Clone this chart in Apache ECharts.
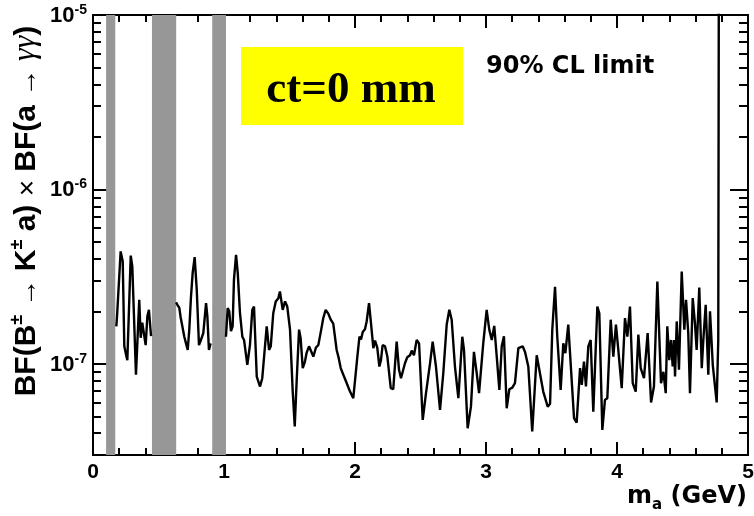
<!DOCTYPE html>
<html>
<head>
<meta charset="utf-8">
<script src="https://cdn.jsdelivr.net/npm/echarts@6/dist/echarts.min.js"></script>
<style>
  html, body { margin: 0; padding: 0; background: #fff; }
  #wrap { position: relative; width: 754px; height: 516px; }
  #frame, #chart { position: absolute; left: 0; top: 0; width: 754px; height: 516px; }
</style>
</head>
<body>
<div id="wrap">
  <div id="frame"></div>
  <div id="chart"></div>
</div>
<script>
// 90% CL upper limit vs m_a (GeV), split by the vetoed mass windows
const seg1 = [
  [0.178, 1.64e-7], [0.183, 1.85e-7], [0.211, 4.41e-7], [0.227, 3.86e-7], [0.239, 1.26e-7],
  [0.250, 1.15e-7], [0.262, 1.05e-7], [0.288, 4.17e-7], [0.300, 3.62e-7], [0.328, 8.65e-8],
  [0.353, 2.33e-7], [0.364, 1.41e-7], [0.376, 1.72e-7], [0.389, 1.68e-7], [0.402, 1.28e-7],
  [0.415, 1.87e-7], [0.427, 2.04e-7], [0.443, 1.44e-7]
];
const seg2 = [
  [0.634, 2.25e-7], [0.644, 2.18e-7], [0.659, 2.09e-7], [0.669, 1.85e-7], [0.684, 1.83e-7],
  [0.697, 1.43e-7], [0.710, 1.31e-7], [0.723, 1.20e-7], [0.735, 1.57e-7], [0.748, 2.43e-7],
  [0.761, 3.33e-7], [0.776, 4.09e-7], [0.792, 2.66e-7], [0.809, 1.28e-7], [0.824, 1.37e-7],
  [0.842, 1.50e-7], [0.863, 2.23e-7], [0.873, 1.87e-7], [0.885, 1.20e-7], [0.898, 1.31e-7]
];
const seg3 = [
  [1.015, 1.43e-7], [1.028, 2.09e-7], [1.040, 2.00e-7], [1.053, 1.54e-7], [1.066, 1.64e-7],
  [1.076, 3.03e-7], [1.092, 4.22e-7], [1.105, 3.31e-7], [1.122, 1.95e-7], [1.140, 1.43e-7],
  [1.153, 1.37e-7], [1.178, 9.87e-8], [1.198, 1.28e-7], [1.216, 2.04e-7], [1.229, 2.13e-7],
  [1.250, 8.45e-8], [1.275, 7.41e-8], [1.292, 8.27e-8], [1.305, 8.09e-8], [1.326, 1.64e-7],
  [1.344, 1.20e-7], [1.357, 1.26e-7], [1.376, 1.95e-7], [1.395, 2.28e-7], [1.415, 2.38e-7],
  [1.427, 2.60e-7], [1.448, 2.04e-7], [1.466, 2.28e-7], [1.483, 2.13e-7], [1.504, 1.57e-7],
  [1.524, 7.09e-8], [1.540, 4.37e-8], [1.555, 8.09e-8], [1.573, 1.57e-7], [1.585, 1.40e-7],
  [1.601, 9.45e-8], [1.618, 1.03e-7], [1.631, 1.16e-7], [1.649, 1.26e-7], [1.664, 1.26e-7],
  [1.682, 1.10e-7], [1.702, 1.24e-7], [1.720, 1.28e-7], [1.740, 1.54e-7], [1.758, 1.83e-7],
  [1.776, 2.04e-7], [1.796, 1.94e-7], [1.815, 1.79e-7], [1.834, 1.70e-7], [1.860, 1.20e-7],
  [1.873, 1.10e-7], [1.891, 9.45e-8], [1.911, 8.65e-8], [1.937, 7.74e-8], [1.962, 6.93e-8],
  [1.987, 6.35e-8], [2.000, 6.50e-8], [2.018, 1.10e-7], [2.034, 1.43e-7], [2.046, 1.38e-7],
  [2.059, 1.52e-7], [2.076, 1.58e-7], [2.089, 1.75e-7], [2.107, 2.23e-7], [2.122, 1.71e-7],
  [2.140, 1.23e-7], [2.153, 1.36e-7], [2.170, 1.24e-7], [2.186, 9.65e-8], [2.198, 1.05e-7],
  [2.211, 1.28e-7], [2.229, 1.26e-7], [2.247, 1.10e-7], [2.273, 7.25e-8], [2.292, 7.15e-8],
  [2.318, 1.34e-7], [2.336, 9.24e-8], [2.351, 8.27e-8], [2.382, 1.01e-7], [2.399, 1.09e-7],
  [2.420, 1.12e-7], [2.433, 1.19e-7], [2.450, 1.12e-7], [2.471, 1.37e-7], [2.489, 1.31e-7],
  [2.517, 4.77e-8], [2.542, 6.79e-8], [2.573, 1.01e-7], [2.593, 1.34e-7], [2.618, 9.65e-8],
  [2.649, 5.44e-8], [2.674, 8.85e-8], [2.700, 1.68e-7], [2.720, 2.04e-7], [2.738, 1.79e-7],
  [2.763, 9.65e-8], [2.789, 6.35e-8], [2.819, 1.43e-7], [2.832, 1.20e-7], [2.860, 4.27e-8],
  [2.885, 5.68e-8], [2.908, 1.17e-7], [2.929, 8.85e-8], [2.947, 6.79e-8], [2.962, 6.93e-8],
  [2.979, 1.31e-7], [3.005, 2.04e-7], [3.025, 1.57e-7], [3.044, 1.37e-7], [3.063, 1.65e-7],
  [3.082, 1.10e-7], [3.102, 7.09e-8], [3.120, 1.26e-7], [3.137, 1.44e-7], [3.158, 5.56e-8],
  [3.178, 7.15e-8], [3.201, 7.30e-8], [3.221, 7.74e-8], [3.247, 1.23e-7], [3.280, 1.26e-7],
  [3.298, 1.17e-7], [3.323, 9.65e-8], [3.353, 4.09e-8], [3.387, 1.12e-7], [3.407, 9.24e-8],
  [3.437, 6.93e-8], [3.471, 5.68e-8], [3.489, 5.90e-8], [3.506, 1.57e-7], [3.527, 2.76e-7],
  [3.544, 1.43e-7], [3.570, 7.09e-8], [3.590, 1.31e-7], [3.606, 1.15e-7], [3.628, 1.68e-7],
  [3.641, 1.70e-7], [3.672, 4.88e-8], [3.692, 4.60e-8], [3.718, 9.45e-8], [3.731, 7.57e-8],
  [3.748, 1.03e-7], [3.763, 7.41e-8], [3.781, 1.26e-7], [3.799, 1.37e-7], [3.819, 5.32e-8],
  [3.850, 2.13e-7], [3.865, 1.95e-7], [3.888, 4.18e-8], [3.908, 6.21e-8], [3.926, 6.35e-8],
  [3.952, 1.79e-7], [3.972, 1.10e-7], [3.992, 1.68e-7], [4.010, 1.20e-7], [4.036, 7.25e-8],
  [4.061, 1.83e-7], [4.079, 1.43e-7], [4.099, 2.13e-7], [4.120, 7.74e-8], [4.143, 6.93e-8],
  [4.163, 1.47e-7], [4.181, 9.45e-8], [4.206, 8.27e-8], [4.234, 1.50e-7], [4.260, 6.00e-8],
  [4.282, 7.41e-8], [4.308, 2.96e-7], [4.336, 7.74e-8], [4.354, 9.00e-8], [4.372, 6.79e-8],
  [4.384, 1.64e-7], [4.399, 1.05e-7], [4.412, 1.37e-7], [4.425, 9.65e-8], [4.435, 1.37e-7],
  [4.443, 8.45e-8], [4.456, 1.75e-7], [4.473, 9.24e-8], [4.494, 3.38e-7], [4.514, 1.57e-7],
  [4.527, 2.33e-7], [4.544, 1.50e-7], [4.557, 6.79e-8], [4.578, 2.38e-7], [4.595, 1.71e-7],
  [4.608, 1.20e-7], [4.628, 2.74e-7], [4.647, 9.45e-8], [4.659, 1.37e-7], [4.677, 2.18e-7],
  [4.697, 8.65e-8], [4.710, 2.00e-7], [4.731, 9.87e-8], [4.743, 9.65e-8], [4.761, 6.00e-8],
  [4.773, 1.37e-7], [4.779, 1e-4]
];
// vetoed m_a windows (GeV)
const vetoBands = [[0.10, 0.17], [0.45, 0.635], [0.91, 1.015]];
const yMajor = [1e-7, 1e-6, 1e-5];
const yMinor = [4e-8, 5e-8, 6e-8, 7e-8, 8e-8, 9e-8,
  2e-7, 3e-7, 4e-7, 5e-7, 6e-7, 7e-7, 8e-7, 9e-7,
  2e-6, 3e-6, 4e-6, 5e-6, 6e-6, 7e-6, 8e-6, 9e-6];
const yMin = 3e-8, yMax = 1e-5;
const xMin = 0, xMax = 5;

const black = '#000';
const wide = 'DejaVu Sans';
const grid = { left: 93, right: 6, top: 15, bottom: 61, outerBoundsMode: 'none' };

function yAx (position, ticks, len, withLabel) {
  return {
    type: 'log',
    logBase: 10,
    position: position,
    min: yMin,
    max: yMax,
    axisLine: { show: true, onZero: false, lineStyle: { color: black, width: 2 } },
    axisTick: { show: true, inside: true, length: len, customValues: ticks, lineStyle: { color: black, width: 2 } },
    axisLabel: {
      show: withLabel,
      customValues: yMajor,
      margin: 6,
      formatter: v => '{b|10}{s|' + Math.round(Math.log10(v)) + '}',
      rich: {
        b: { fontWeight: 'bold', fontSize: 22, color: black, lineHeight: 24, verticalAlign: 'bottom' },
        s: { fontWeight: 'bold', fontSize: 14, color: black, lineHeight: 14, verticalAlign: 'top' }
      }
    },
    splitLine: { show: false }
  }
}

function xAx (position, withLabel) {
  return {
    type: 'value',
    position: position,
    min: xMin,
    max: xMax,
    interval: 1,
    axisLine: { show: true, onZero: false, lineStyle: { color: black, width: 2 } },
    axisTick: { show: true, inside: true, length: 13, lineStyle: { color: black, width: 2 } },
    minorTick: { show: true, splitNumber: 5, length: 7, lineStyle: { color: black, width: 2 } },
    axisLabel: { show: withLabel, margin: 7, color: black, fontWeight: 'bold', fontSize: 21 },
    splitLine: { show: false },
    minorSplitLine: { show: false }
  }
}

// frame: axes, ticks and tick labels
const frame = echarts.init(document.getElementById('frame'));
frame.setOption({
  animation: false,
  grid: grid,
  xAxis: [xAx('bottom', true), xAx('top', false)],
  yAxis: [
    yAx('left', yMajor, 14, true),
    yAx('left', yMinor, 8, false),
    yAx('right', yMajor, 18, false),
    yAx('right', yMinor, 9, false)
  ],
  series: [{ type: 'line', data: [], xAxisIndex: 0, yAxisIndex: 0 }]
});

// data layer on the same grid and scales, drawn over the frame
function lineSeries (data) {
  return {
    type: 'line',
    data: data,
    showSymbol: false,
    lineStyle: { color: black, width: 2.4 },
    itemStyle: { color: black }
  }
}

const s1 = lineSeries(seg1);
s1.markArea = {
  silent: true,
  itemStyle: { color: '#979797', opacity: 1 },
  data: vetoBands.map(b => [{ xAxis: b[0] }, { xAxis: b[1] }])
};

const chart = echarts.init(document.getElementById('chart'));
chart.setOption({
  animation: false,
  grid: grid,
  xAxis: { type: 'value', min: xMin, max: xMax, show: false },
  yAxis: { type: 'log', logBase: 10, min: yMin, max: yMax, show: false },
  series: [s1, lineSeries(seg2), lineSeries(seg3)],
  graphic: [
    { type: 'rect', shape: { x: 241, y: 47, width: 222, height: 78 }, style: { fill: '#ffff00' }, z: 10 },
    {
      type: 'text', x: 351, y: 90, z: 11,
      style: { text: 'ct=0 mm', font: 'bold 45px "Liberation Serif", serif', fill: black, align: 'center', verticalAlign: 'middle' }
    },
    {
      type: 'text', x: 486, y: 67, z: 11,
      style: { text: '90% CL limit', font: 'bold 24px "DejaVu Sans", sans-serif', fill: black, align: 'left', verticalAlign: 'middle' }
    },
    {
      type: 'text', x: 747, y: 499, z: 11,
      style: {
        text: '{b|m}{s|a}{b| (GeV)}',
        align: 'right',
        verticalAlign: 'middle',
        rich: {
          b: { fontFamily: wide, fontWeight: 'bold', fontSize: 24, color: black, lineHeight: 28, verticalAlign: 'top' },
          s: { fontFamily: wide, fontWeight: 'bold', fontSize: 15, color: black, lineHeight: 12, verticalAlign: 'bottom' }
        }
      }
    },
    {
      type: 'text', x: 25, y: 211, rotation: Math.PI / 2, z: 11,
      style: {
        text: '{b|BF(B}{s|±}{a| → }{b|K}{s|±}{b| a) }{a|×}{b| BF(a }{a|→ }{g|γγ}{b|)}',
        align: 'center',
        verticalAlign: 'middle',
        rich: {
          b: { fontWeight: 'bold', fontSize: 30, color: black, lineHeight: 34, verticalAlign: 'bottom' },
          s: { fontWeight: 'bold', fontSize: 18, color: black, lineHeight: 18, verticalAlign: 'top' },
          a: { fontSize: 28, color: black, lineHeight: 34, verticalAlign: 'bottom' },
          g: { fontFamily: 'Liberation Serif', fontStyle: 'italic', fontSize: 32, color: black, lineHeight: 34, verticalAlign: 'bottom' }
        }
      }
    }
  ]
});
</script>
</body>
</html>
